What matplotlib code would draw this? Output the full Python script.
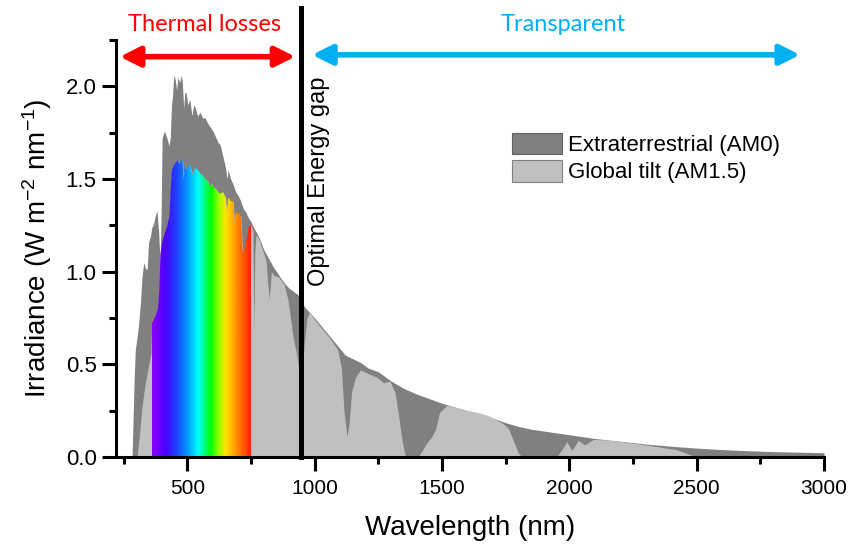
import numpy as np
import matplotlib.pyplot as plt
from matplotlib.colors import LinearSegmentedColormap
from matplotlib.patches import Patch

plt.rcParams['font.family'] = ['Liberation Sans', 'DejaVu Sans']
plt.rcParams['mathtext.default'] = 'regular'

# Extraterrestrial spectrum (AM0)
wl_am0 = [283, 288, 292, 296, 303, 309, 316, 322, 329, 335, 342, 348, 355, 361, 368,
          374, 381, 388, 393, 397, 401, 410, 420, 428, 433, 438, 442, 447, 452, 458,
          463, 470, 476, 480, 486, 490, 496, 502, 510, 518, 525, 532, 540, 550, 560,
          570, 580, 590, 600, 610, 620, 630, 640, 650, 656, 660, 670, 680, 690, 700,
          710, 720, 730, 740, 750, 760, 780, 800, 820, 840, 860, 880, 900, 920, 940,
          960, 980, 1000, 1030, 1060, 1090, 1120, 1150, 1180, 1210, 1250, 1300, 1350,
          1400, 1450, 1500, 1550, 1600, 1650, 1700, 1750, 1800, 1850, 1900, 1950,
          2000, 2050, 2100, 2200, 2300, 2400, 2500, 2600, 2700, 2800, 2900, 3000]
am0 = [0.0, 0.25, 0.45, 0.58, 0.65, 0.72, 0.83, 0.97, 1.05, 1.02, 1.01, 1.16, 1.19, 1.24, 1.26,
       1.30, 1.33, 1.20, 1.05, 1.30, 1.72, 1.76, 1.72, 1.68, 1.72, 1.90, 1.95, 2.06, 2.04, 1.98,
       2.05, 2.02, 2.06, 2.03, 1.88, 1.97, 1.96, 1.90, 1.93, 1.84, 1.90, 1.88, 1.84, 1.86, 1.83,
       1.83, 1.80, 1.78, 1.76, 1.73, 1.70, 1.68, 1.62, 1.56, 1.50, 1.55, 1.50, 1.47, 1.43, 1.41,
       1.38, 1.34, 1.32, 1.29, 1.27, 1.24, 1.19, 1.12, 1.07, 1.02, 0.98, 0.94, 0.91, 0.89, 0.87,
       0.81, 0.78, 0.75, 0.70, 0.65, 0.60, 0.55, 0.53, 0.51, 0.48, 0.46, 0.41, 0.37,
       0.34, 0.315, 0.29, 0.27, 0.25, 0.235, 0.21, 0.185, 0.165, 0.15, 0.14, 0.13,
       0.12, 0.11, 0.10, 0.085, 0.07, 0.058, 0.048, 0.04, 0.034, 0.029, 0.026, 0.023]

# Global tilt spectrum (AM1.5)
wl_am15 = [303, 312, 322, 332, 342, 350, 357, 360, 365, 375, 385, 390, 395, 400, 410,
           420, 430, 435, 440, 450, 460, 470, 480, 486, 490, 500, 510, 520, 530, 540,
           550, 560, 570, 580, 590, 595, 600, 610, 620, 630, 640, 650, 656, 660, 670,
           680, 686, 690, 700, 710, 718, 725, 735, 740, 750, 758, 761, 765, 770, 780,
           790, 800, 810, 815, 822, 830, 840, 860, 880, 895, 905, 915, 930, 940, 950,
           960, 970, 980, 1000, 1030, 1060, 1090, 1105, 1115, 1127, 1135, 1145, 1160,
           1180, 1210, 1245, 1270, 1295, 1315, 1330, 1343, 1355, 1360, 1405, 1420, 1440,
           1460, 1475, 1490, 1520, 1570, 1620, 1680, 1715, 1740, 1760, 1780, 1800, 1815,
           1950, 1970, 1990, 2010, 2035, 2060, 2095, 2150, 2250, 2350, 2420, 2460, 2500, 3000]
am15 = [0.0, 0.12, 0.27, 0.37, 0.45, 0.51, 0.56, 0.72, 0.73, 0.76, 0.80, 0.90, 1.10, 1.15, 1.20,
        1.24, 1.30, 1.45, 1.55, 1.58, 1.60, 1.58, 1.62, 1.50, 1.57, 1.55, 1.58, 1.52, 1.56, 1.55,
        1.53, 1.52, 1.50, 1.49, 1.45, 1.48, 1.46, 1.45, 1.43, 1.42, 1.43, 1.40, 1.32, 1.40, 1.38,
        1.38, 1.26, 1.32, 1.31, 1.30, 1.10, 1.12, 1.20, 1.24, 1.25, 1.22, 0.66, 1.10, 1.20, 1.18,
        1.14, 1.10, 1.05, 0.95, 0.85, 1.00, 0.98, 0.97, 0.93, 0.85, 0.75, 0.65, 0.55, 0.45, 0.45,
        0.62, 0.75, 0.78, 0.74, 0.69, 0.64, 0.58, 0.48, 0.25, 0.11, 0.18, 0.35, 0.43,
        0.47, 0.45, 0.43, 0.40, 0.41, 0.35, 0.22, 0.09, 0.01, 0.0, 0.0, 0.03, 0.075,
        0.11, 0.15, 0.24, 0.28, 0.262, 0.245, 0.225, 0.20, 0.18, 0.155, 0.09, 0.02, 0.0,
        0.0, 0.038, 0.083, 0.035, 0.09, 0.065, 0.095, 0.092, 0.075, 0.055, 0.04, 0.02, 0.0, 0.0]

gap_nm = 946
vis_range = (360, 750)

wl_am0 = np.array(wl_am0)
am0 = np.array(am0)
wl_am15 = np.array(wl_am15)
am15 = np.array(am15)

fig = plt.figure(figsize=(8.52, 5.54), dpi=100)
ax = fig.add_axes([116 / 852, 97 / 554, 708 / 852, 417 / 554])

ax.fill_between(wl_am0, am0, color='#808080', lw=0)
ax.fill_between(wl_am15, am15, color='#c0c0c0', lw=0)

# rainbow under AM1.5 in the visible range
vis = (wl_am15 >= vis_range[0]) & (wl_am15 <= vis_range[1])
clip = ax.fill_between(wl_am15[vis], am15[vis], color='none', lw=0)
spec = LinearSegmentedColormap.from_list('spec', [
    (0.00, (0.55, 0.0, 1.0)),
    (0.13, (0.30, 0.0, 1.0)),
    (0.24, (0.12, 0.25, 1.0)),
    (0.37, (0.0, 0.65, 1.0)),
    (0.46, (0.0, 1.0, 1.0)),
    (0.59, (0.0, 1.0, 0.0)),
    (0.67, (0.6, 1.0, 0.0)),
    (0.74, (1.0, 0.9, 0.0)),
    (0.85, (1.0, 0.55, 0.0)),
    (1.00, (1.0, 0.1, 0.0)),
])
grad = np.linspace(0, 1, 256).reshape(1, -1)
im = ax.imshow(grad, extent=[vis_range[0], vis_range[1], 0, 2.25], aspect='auto',
               cmap=spec, origin='lower', zorder=2)
im.set_clip_path(clip.get_paths()[0], transform=ax.transData)

ax.set_xlim(220, 3000)
ax.set_ylim(0, 2.25)
ax.set_aspect('auto')

# energy gap line
ax.plot([gap_nm, gap_nm], [0, 2.42], color='black', lw=3.6, clip_on=False, zorder=4)
ax.text(975, 2.055, 'Optimal Energy gap', rotation=90, ha='left', va='top', fontsize=17)

# arrows
ax.annotate('', xy=(924, 2.16), xytext=(235, 2.16), annotation_clip=False,
            arrowprops=dict(arrowstyle='<|-|>,head_length=0.6,head_width=0.3', color='#ff0000',
                            lw=4, mutation_scale=20, shrinkA=0, shrinkB=0))
ax.annotate('', xy=(2906, 2.17), xytext=(990, 2.17), annotation_clip=False,
            arrowprops=dict(arrowstyle='<|-|>,head_length=0.6,head_width=0.3', color='#00b0f0',
                            lw=4, mutation_scale=20, shrinkA=0, shrinkB=0))
ax.text(567, 2.335, 'Thermal losses', color='#ff0000', fontsize=17, family='Lato',
        ha='center', va='center', clip_on=False)
ax.text(1976, 2.335, 'Transparent', color='#00b0f0', fontsize=17, family='Lato',
        ha='center', va='center', clip_on=False)

for s in ['top', 'right']:
    ax.spines[s].set_visible(False)
for s in ['left', 'bottom']:
    ax.spines[s].set_linewidth(2.2)

ax.set_xticks([500, 1000, 1500, 2000, 2500, 3000])
ax.set_xticks([250, 750, 1250, 1750, 2250, 2750], minor=True)
ax.set_yticks([0.0, 0.5, 1.0, 1.5, 2.0])
ax.set_yticks([0.25, 0.75, 1.25, 1.75, 2.25], minor=True)
ax.set_yticklabels(['0.0', '0.5', '1.0', '1.5', '2.0'])
ax.tick_params(which='major', direction='out', length=10, width=2.2, labelsize=15, pad=6)
ax.tick_params(axis='y', which='major', labelsize=16, pad=4)
ax.tick_params(which='minor', direction='out', length=5, width=2.2)

ax.set_xlabel('Wavelength (nm)', fontsize=20, labelpad=12)
ax.set_ylabel('Irradiance (W m$^{-2}$ nm$^{-1}$)', fontsize=20, labelpad=8)

handles = [Patch(facecolor='#808080', edgecolor='#606060', lw=0.8),
           Patch(facecolor='#c0c0c0', edgecolor='#808080', lw=0.8)]
ax.legend(handles, ['Extraterrestrial (AM0)', 'Global tilt (AM1.5)'], loc='upper left',
          bbox_to_anchor=(512 / 852, 1 - 133 / 554), bbox_transform=fig.transFigure,
          frameon=False, fontsize=16, borderpad=0, borderaxespad=0, handlelength=2.25,
          handleheight=1.1, labelspacing=0.18, handletextpad=0.28)

fig.savefig('out.png', dpi=100)
